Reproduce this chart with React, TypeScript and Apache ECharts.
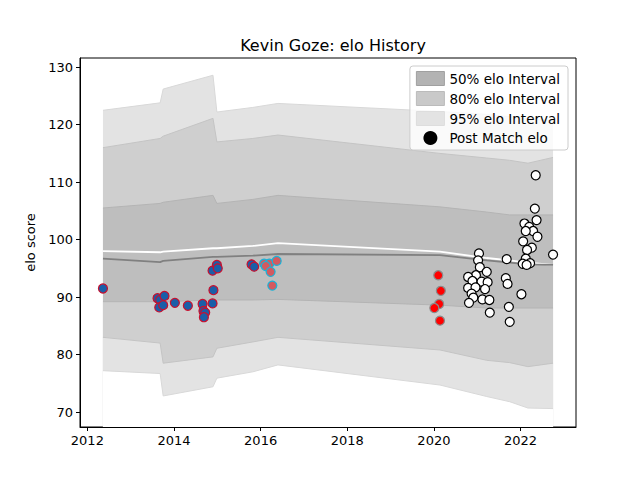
import { useEffect, useRef } from "react";
import * as echarts from "echarts";

// band timeline (year) and interval edges
const bandX = [2012.36, 2013.68, 2013.75, 2014.9, 2014.99, 2015.82, 2016.4, 2020.14, 2021.22, 2021.75, 2022.17, 2022.75];
const top95 = [122.5, 123.8, 126.2, 128.6, 122.2, 123.0, 123.7, 122.3, 121.8, 121.4, 121.0, 120.7];
const top80 = [116.0, 117.6, 118.0, 121.1, 117.0, 117.6, 118.2, 115.0, 114.2, 113.8, 113.3, 114.3];
const top50 = [105.5, 106.3, 106.5, 107.7, 106.3, 107.0, 107.7, 105.7, 104.8, 104.3, 104.3, 104.3];
const meanLine = [98.0, 97.8, 97.9, 98.5, 98.5, 98.9, 99.4, 97.9, 96.8, 96.4, 96.0, 95.6];
const medianLine = [96.7, 96.1, 96.3, 97.0, 97.0, 97.2, 97.5, 97.3, 96.4, 96.0, 95.7, 95.6];
const bot50 = [89.2, 89.2, 89.2, 89.5, 89.5, 89.5, 89.6, 88.6, 88.1, 88.1, 88.1, 88.1];
const bot80 = [83.0, 82.0, 78.5, 79.6, 81.1, 82.2, 83.0, 80.8, 79.0, 78.6, 77.9, 78.5];
const bot95 = [77.2, 76.7, 72.8, 74.4, 75.9, 77.0, 78.2, 74.7, 72.7, 71.8, 70.7, 70.6];

// post match elo points, grouped by marker style
const bluePts = [
  [2012.36, 91.5], [2013.62, 89.8], [2013.68, 89.5], [2013.78, 90.2], [2013.66, 88.2], [2013.75, 88.6],
  [2014.02, 89.0], [2014.32, 88.5], [2014.66, 88.8], [2014.68, 87.6], [2014.72, 87.3], [2014.69, 86.5],
  [2014.89, 88.9], [2014.91, 91.2], [2014.89, 94.6], [2014.99, 95.6], [2015.01, 95.0], [2015.79, 95.7], [2015.85, 95.3],
];
const cyanPts = [[2016.08, 95.8], [2016.2, 95.8], [2016.12, 95.4], [2016.37, 96.3], [2016.23, 94.4], [2016.27, 92.0]];
const redPts = [[2020.1, 93.8], [2020.16, 91.1], [2020.12, 88.8], [2020.01, 88.1], [2020.14, 85.9]];
const whitePts = [
  [2022.35, 111.2], [2022.33, 105.4], [2022.37, 103.4], [2022.09, 102.8], [2022.2, 102.2], [2022.29, 101.5],
  [2022.12, 101.5], [2022.39, 100.5], [2022.06, 99.7], [2022.26, 98.6], [2022.15, 98.2], [2022.75, 97.4],
  [2022.12, 96.7], [2022.05, 95.8], [2022.22, 95.9], [2022.14, 95.6], [2021.68, 96.6], [2021.66, 93.3],
  [2021.7, 92.3], [2022.02, 90.5], [2021.73, 88.3], [2021.75, 85.7], [2021.04, 97.6], [2021.02, 96.4],
  [2021.06, 95.2], [2020.97, 93.8], [2020.79, 93.5], [2021.22, 94.4], [2020.89, 92.8], [2021.1, 92.7],
  [2021.24, 92.6], [2020.79, 91.6], [2020.96, 91.7], [2021.18, 91.4], [2020.87, 90.6], [2020.91, 89.9],
  [2021.12, 89.6], [2021.28, 89.5], [2020.81, 89.0], [2021.29, 87.3],
];

const xTicks = [2012, 2014, 2016, 2018, 2020, 2022];
const yTicks = [70, 80, 90, 100, 110, 120, 130];

const C95 = "#e3e3e3";
const C80 = "#cfcfcf";
const C50 = "#bebebe";

const pairs = (ys: number[]) => bandX.map((x, i) => [x, ys[i]]);

function fill(name: string, ys: number[], color: string, edge: string) {
  return {
    name,
    type: "line",
    data: pairs(ys),
    symbol: "none",
    lineStyle: { color: edge, width: 1 },
    areaStyle: { color, opacity: 1, origin: "start" },
    silent: true,
  };
}

function dots(name: string, pts: number[][], color: string, border: string) {
  return {
    name,
    type: "scatter",
    data: pts,
    symbolSize: 9,
    itemStyle: { color, borderColor: border, borderWidth: 1.2, opacity: 1 },
    z: 5,
  };
}

export default function App() {
  const ref = useRef<HTMLDivElement | null>(null);

  useEffect(() => {
    if (!ref.current) return;
    const chart = echarts.init(ref.current, undefined, { renderer: "svg" });
    chart.setOption({
      animation: false,
      textStyle: { fontFamily: "DejaVu Sans" },
      title: {
        text: "Kevin Goze: elo History",
        left: 328,
        top: 32,
        textAlign: "center",
        textStyle: { fontSize: 16, fontWeight: "normal", color: "#000" },
      },
      grid: { left: 80, right: 64, top: 58, bottom: 53, show: true, borderColor: "#000", borderWidth: 1 },
      legend: {
        right: 72,
        top: 66,
        orient: "vertical",
        itemGap: 5,
        itemWidth: 28,
        itemHeight: 14,
        backgroundColor: "rgba(255,255,255,0.8)",
        borderColor: "#ccc",
        borderWidth: 1,
        borderRadius: 3,
        padding: [5, 8, 5, 6],
        textStyle: { fontSize: 13.5, color: "#000" },
        data: [
          { name: "50% elo Interval", icon: "rect", itemStyle: { color: "#b3b3b3", borderColor: "#a0a0a0", borderWidth: 1 } },
          { name: "80% elo Interval", icon: "rect", itemStyle: { color: "#c9c9c9", borderColor: "#bbb", borderWidth: 1 } },
          { name: "95% elo Interval", icon: "rect", itemStyle: { color: C95, borderColor: "#ddd", borderWidth: 1 } },
          { name: "Post Match elo", icon: "circle", itemStyle: { color: "#000", borderWidth: 0 } },
        ],
      },
      xAxis: {
        type: "value",
        min: 2011.83,
        max: 2023.28,
        axisLine: { show: true, lineStyle: { color: "#000" } },
        axisTick: { show: true, length: 4, lineStyle: { color: "#000" }, customValues: xTicks },
        axisLabel: { color: "#000", fontSize: 13, customValues: xTicks, margin: 7, formatter: (v: number) => String(v) },
        splitLine: { show: false },
      },
      yAxis: {
        type: "value",
        name: "elo score",
        nameLocation: "middle",
        nameGap: 42,
        nameTextStyle: { fontSize: 13, color: "#000" },
        min: 67.4,
        max: 131.6,
        axisLine: { show: true, lineStyle: { color: "#000" } },
        axisTick: { show: true, length: 4, lineStyle: { color: "#000" }, customValues: yTicks },
        axisLabel: { color: "#000", fontSize: 13, customValues: yTicks, margin: 7 },
        splitLine: { show: false },
      },
      series: [
        fill("95% elo Interval", top95, C95, "#d8d8d8"),
        fill("80% elo Interval", top80, C80, "#c4c4c4"),
        fill("50% elo Interval", top50, C50, "#b4b4b4"),
        fill("b50", bot50, C80, "#b4b4b4"),
        fill("b80", bot80, C95, "#c4c4c4"),
        fill("b95", bot95, "#ffffff", "#d8d8d8"),
        {
          name: "mean",
          type: "line",
          data: pairs(meanLine),
          symbol: "none",
          lineStyle: { color: "#ffffff", width: 1.8 },
          z: 3,
          silent: true,
        },
        {
          name: "median",
          type: "line",
          data: pairs(medianLine),
          symbol: "none",
          lineStyle: { color: "#808080", width: 1.8 },
          z: 3,
          silent: true,
        },
        dots("Post Match elo", whitePts, "#ffffff", "#000000"),
        dots("blue", bluePts, "#1a5ea8", "#c8102e"),
        dots("cyan", cyanPts, "#d35a60", "#1ab3d8"),
        dots("red", redPts, "#ff0000", "#8a8a8a"),
      ],
    });
    return () => chart.dispose();
  }, []);

  return <div ref={ref} style={{ width: 640, height: 480, margin: -8 }} />;
}
